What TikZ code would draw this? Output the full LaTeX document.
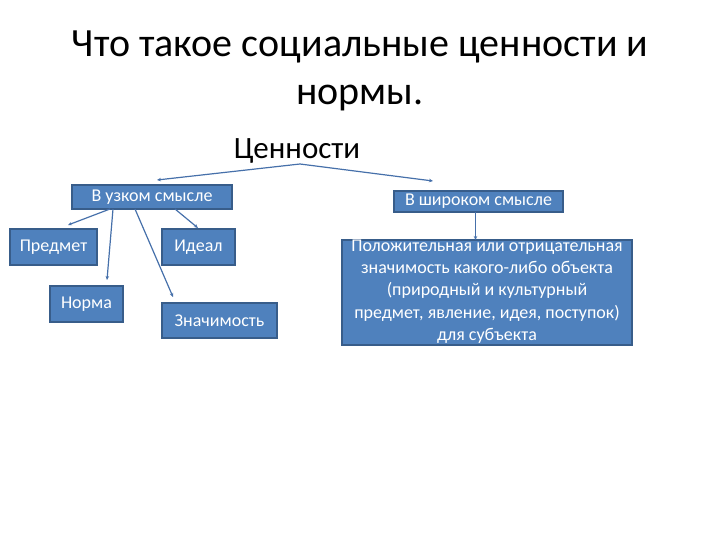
\documentclass[tikz,border=0pt]{standalone}
\usepackage{fontspec}
\setmainfont{Carlito}
\usetikzlibrary{arrows.meta}
\definecolor{boxblue}{RGB}{79,129,189}
\definecolor{boxedge}{RGB}{56,93,138}
\definecolor{linkblue}{RGB}{70,112,170}
\begin{document}
\begin{tikzpicture}[x=1pt, y=1pt, yscale=-1, inner sep=0pt, outer sep=0pt,
  blbox/.style={draw=boxedge, fill=boxblue, line width=1.2pt, text=white, anchor=north west,
    font=\fontsize{18}{22}\selectfont, align=center},
  link/.style={draw=linkblue, line width=1.2pt, -{Stealth[length=4pt,width=3.5pt]}}]
  \useasboundingbox (0,0) rectangle (720,540);
  \node[font=\fontsize{40}{48}\selectfont, align=center] (title) at (360,71)
    {Что такое социальные ценности и\\нормы.};
  \node[font=\fontsize{31}{36}\selectfont] (values) at (297,151) {Ценности};
  \node[blbox, minimum width=160, minimum height=24] (narrow) at (72,185) {В узком смысле};
  \node[blbox, minimum width=169, minimum height=21] (broad) at (394,191) {В широком смысле};
  \node[blbox, minimum width=87, minimum height=36] (subject) at (10,229) {Предмет};
  \node[blbox, minimum width=73, minimum height=36] (norm) at (50,286) {Норма};
  \node[blbox, minimum width=73, minimum height=36] (ideal) at (162,229) {Идеал};
  \node[blbox, minimum width=115, minimum height=35] (meaning) at (162,303) {Значимость};
  \node[blbox, minimum width=290, minimum height=105] (defin) at (342,240) {};
  \node[text=white, align=center, font=\fontsize{18}{22.3}\selectfont] (defintext)
    at ([yshift=-1]defin.center) {Положительная или отрицательная\\значимость какого-либо объекта\\(природный и культурный\\предмет, явление, идея, поступок)\\для  субъекта};
  % arrows
  \coordinate (root) at (300,164);
  \coordinate (tnarrow) at (157,180);
  \coordinate (tbroad) at (433,181);
  \coordinate (tsubject) at (68,225);
  \coordinate (tnorm) at (107,280);
  \coordinate (tmeaning) at (173,297);
  \coordinate (tideal) at (198,228);
  \draw[link] (root) -- (tnarrow);
  \draw[link] (root) -- (tbroad);
  \draw[link] ([xshift=38]narrow.south west) -- (tsubject);
  \draw[link] ([xshift=41]narrow.south west) -- (tnorm);
  \draw[link] ([xshift=63]narrow.south west) -- (tmeaning);
  \draw[link] ([xshift=103]narrow.south west) -- (tideal);
  \draw[link] ([xshift=-3]broad.south) -- ([xshift=-3]broad.south |- defin.north);
\end{tikzpicture}
\end{document}
